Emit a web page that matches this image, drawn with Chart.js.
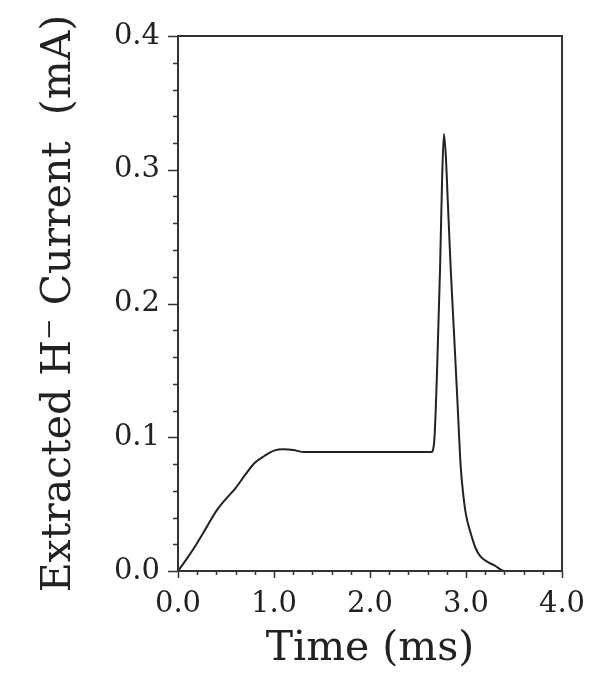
<!DOCTYPE html>
<html>
<head>
<meta charset="utf-8">
<script src="https://cdn.jsdelivr.net/npm/chart.js@4.4.1/dist/chart.umd.min.js"></script>
<style>
  html, body { margin: 0; padding: 0; background: #fff; }
  #wrap { width: 601px; height: 676px; }
</style>
</head>
<body>
<div id="wrap"><canvas id="pulseChart" width="601" height="676"></canvas></div>
<script>
// time in ms, current in mA
const timeMs = [0.00, 0.10, 0.20, 0.30, 0.40, 0.50, 0.60, 0.70, 0.80, 0.90, 1.00, 1.10, 1.20, 1.30,
  1.60, 2.00, 2.40, 2.64, 2.67, 2.70, 2.73, 2.75, 2.77, 2.79, 2.81, 2.84, 2.875, 2.91, 2.945,
  2.97, 3.00, 3.05, 3.10, 3.15, 3.22, 3.30, 3.40, 3.60, 4.00];
const currentMA = [0.000, 0.010, 0.021, 0.033, 0.045, 0.054, 0.062, 0.072, 0.081, 0.086, 0.090, 0.091, 0.0905, 0.089,
  0.089, 0.089, 0.089, 0.089, 0.098, 0.153, 0.227, 0.290, 0.327, 0.310, 0.277, 0.227, 0.178, 0.128, 0.078,
  0.058, 0.042, 0.028, 0.017, 0.011, 0.007, 0.004, 0.000, 0.000, 0.000];

const xTicks = [0, 1, 2, 3, 4];
const yTicks = [0, 0.1, 0.2, 0.3, 0.4];
const xMinorStep = 0.2;
const yMinorStep = 0.02;

const ink = '#222';
const serif = "'DejaVu Serif', 'Liberation Serif', serif";

// frame on top/right plus outward major/minor tick marks
const frameTicks = {
  id: 'frameTicks',
  afterDraw(chart) {
    const { ctx, chartArea: a, scales: { x, y } } = chart;
    ctx.save();
    ctx.strokeStyle = '#333';
    ctx.lineWidth = 2;
    ctx.strokeRect(a.left, a.top, a.right - a.left, a.bottom - a.top);
    ctx.lineWidth = 1.5;
    ctx.beginPath();
    for (let i = 0; i <= Math.round((x.max - x.min) / xMinorStep); i++) {
      const v = x.min + i * xMinorStep;
      const major = xTicks.some(t => Math.abs(t - v) < 1e-6);
      const px = Math.round(x.getPixelForValue(v)) + 0.5;
      ctx.moveTo(px, a.bottom);
      ctx.lineTo(px, a.bottom + (major ? 7 : 4));
    }
    for (let i = 0; i <= Math.round((y.max - y.min) / yMinorStep); i++) {
      const v = y.min + i * yMinorStep;
      const major = yTicks.some(t => Math.abs(t - v) < 1e-6);
      const py = Math.round(y.getPixelForValue(v)) + 0.5;
      ctx.moveTo(a.left, py);
      ctx.lineTo(a.left - (major ? 10 : 5), py);
    }
    ctx.stroke();
    ctx.restore();
  }
};

const ctx = document.getElementById('pulseChart').getContext('2d');
new Chart(ctx, {
  type: 'line',
  data: {
    datasets: [{
      data: timeMs.map((t, i) => ({ x: t, y: currentMA[i] })),
      borderColor: ink,
      borderWidth: 2,
      pointRadius: 0,
      cubicInterpolationMode: 'monotone',
      fill: false
    }]
  },
  options: {
    responsive: false,
    animation: false,
    layout: { padding: { left: 0, top: 36, right: 39, bottom: 0 } },
    plugins: { legend: { display: false }, tooltip: { enabled: false } },
    scales: {
      x: {
        type: 'linear',
        min: 0, max: 4,
        afterFit(scale) { scale.height = 105; },
        afterBuildTicks(scale) { scale.ticks = xTicks.map(v => ({ value: v })); },
        grid: { display: true, drawOnChartArea: false, drawTicks: true, tickLength: 10, color: 'transparent' },
        border: { display: false },
        ticks: {
          padding: 6, color: ink, maxRotation: 0,
          font: { family: serif, size: 29 },
          callback: v => v.toFixed(1)
        },
        title: {
          display: true, text: 'Time (ms)', color: ink,
          font: { family: serif, size: 41 },
          padding: { top: 0, bottom: 2 }
        }
      },
      y: {
        min: 0, max: 0.4,
        afterFit(scale) { scale.width = 178; },
        afterBuildTicks(scale) { scale.ticks = yTicks.map(v => ({ value: v })); },
        grid: { display: true, drawOnChartArea: false, drawTicks: true, tickLength: 10, color: 'transparent' },
        border: { display: false },
        ticks: {
          padding: 8, color: ink,
          font: { family: serif, size: 29 },
          callback: v => v.toFixed(1)
        },
        title: {
          display: true, text: 'Extracted H\u207B Current  (mA)', color: ink,
          font: { family: serif, size: 41 },
          padding: { top: 35, bottom: 0 }
        }
      }
    }
  },
  plugins: [frameTicks]
});
</script>
</body>
</html>
